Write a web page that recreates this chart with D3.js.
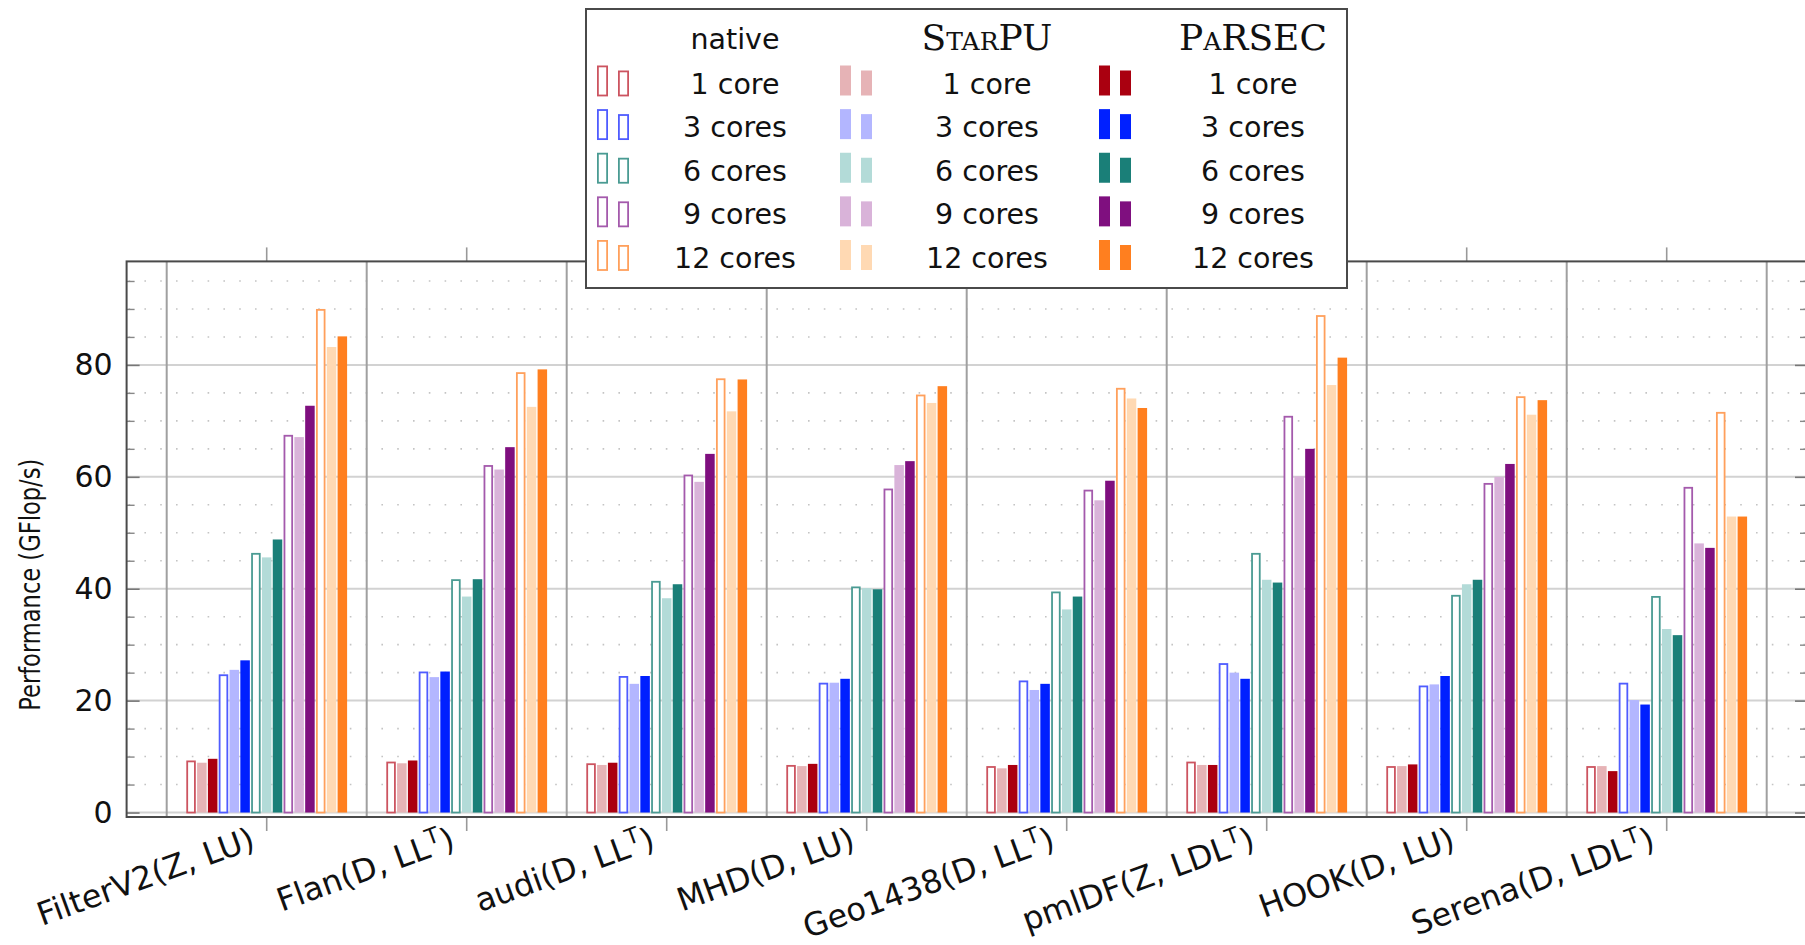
<!DOCTYPE html>
<html>
<head>
<meta charset="utf-8">
<script src="https://cdn.jsdelivr.net/npm/d3@7"></script>
<style>
  html, body { margin: 0; padding: 0; background: #fff; }
  svg { display: block; }
</style>
</head>
<body>
<svg id="chart" width="1805" height="945"></svg>
<script>
// Benchmarks along the x axis ('^T' becomes a superscript T)
const categories = [
  'FilterV2(Z, LU)', 'Flan(D, LL^T)', 'audi(D, LL^T)', 'MHD(D, LU)',
  'Geo1438(D, LL^T)', 'pmlDF(Z, LDL^T)', 'HOOK(D, LU)', 'Serena(D, LDL^T)'
];
const coreLabels = ['1 core', '3 cores', '6 cores', '9 cores', '12 cores'];
const yTicks = [0, 20, 40, 60, 80];

// GFlop/s, one row per benchmark, one column per core count (1, 3, 6, 9, 12)
const nativeValues = [
  [9.3, 24.7, 46.4, 67.5, 90.0],
  [9.1, 25.2, 41.7, 62.1, 78.7],
  [8.8, 24.4, 41.4, 60.4, 77.6],
  [8.5, 23.2, 40.4, 57.9, 74.7],
  [8.3, 23.6, 39.5, 57.7, 75.9],
  [9.1, 26.7, 46.4, 70.9, 88.9],
  [8.3, 22.7, 38.9, 58.9, 74.4],
  [8.3, 23.2, 38.7, 58.2, 71.6]
];
const starpuValues = [
  [8.9, 25.5, 45.6, 67.1, 83.2],
  [8.8, 24.2, 38.6, 61.3, 72.5],
  [8.5, 23.0, 38.3, 59.1, 71.7],
  [8.3, 23.2, 40.1, 62.1, 73.2],
  [7.9, 21.9, 36.3, 55.8, 74.0],
  [8.5, 25.0, 41.6, 60.1, 76.4],
  [8.3, 22.9, 40.8, 60.0, 71.1],
  [8.3, 20.1, 32.8, 48.1, 52.9]
];
const parsecValues = [
  [9.6, 27.2, 48.8, 72.7, 85.1],
  [9.3, 25.2, 41.7, 65.3, 79.2],
  [8.9, 24.4, 40.8, 64.1, 77.4],
  [8.7, 23.9, 39.9, 62.8, 76.2],
  [8.5, 23.0, 38.6, 59.3, 72.3],
  [8.5, 23.9, 41.1, 65.0, 81.3],
  [8.6, 24.4, 41.6, 62.3, 73.7],
  [7.4, 19.3, 31.7, 47.3, 52.9]
];

// colours per core count
const outlineColors = ['#cc5460', '#4f5cff', '#4a9b93', '#a45aac', '#ffa05c'];
const lightColors = ['#e6b3b6', '#b3b6ff', '#b3dbd8', '#d9b3d9', '#ffd9b3'];
const darkColors = ['#aa0010', '#0020ff', '#1a7f78', '#7f0f7f', '#ff7f1f'];

const implementations = [
  { name: 'native', values: nativeValues, fill: () => '#fff', stroke: c => outlineColors[c] },
  { name: 'StarPU', values: starpuValues, fill: c => lightColors[c], stroke: () => 'none' },
  { name: 'PaRSEC', values: parsecValues, fill: c => darkColors[c], stroke: () => 'none' }
];

const frame = { left: 126.6, right: 1808, top: 261.4, bottom: 817 };
const font = '"DejaVu Sans", Verdana, sans-serif';
const serif = '"DejaVu Serif", "Liberation Serif", serif';

const svg = d3.select('#chart').style('font-family', font);

const y = d3.scaleLinear().domain([-0.8, 98.5]).range([frame.bottom, frame.top]);
const x0 = d3.scaleBand().domain(categories).range([166.7, 1766.7]);
const x1 = d3.scaleBand().domain(d3.range(15)).range([19.6, 180.4]).paddingInner(0.12);

const plot = svg.append('g');

// minor dotted grid every 5
const minorTicks = d3.range(5, 98, 5).filter(v => v % 20 !== 0);
plot.append('g')
  .selectAll('line')
  .data(minorTicks)
  .join('line')
  .attr('x1', frame.left + 2).attr('x2', frame.right)
  .attr('y1', d => y(d)).attr('y2', d => y(d))
  .attr('stroke', '#c4c4c4')
  .attr('stroke-width', 1.6)
  .attr('stroke-dasharray', '1.6 14.2');

// major grid
plot.append('g')
  .selectAll('line')
  .data(yTicks)
  .join('line')
  .attr('x1', frame.left).attr('x2', frame.right)
  .attr('y1', d => y(d)).attr('y2', d => y(d))
  .attr('stroke', '#d2d2d2')
  .attr('stroke-width', 2);

// group separators
plot.append('g')
  .selectAll('line')
  .data(categories.concat(['end']))
  .join('line')
  .attr('x1', (d, i) => 166.7 + i * x0.bandwidth())
  .attr('x2', (d, i) => 166.7 + i * x0.bandwidth())
  .attr('y1', frame.top).attr('y2', frame.bottom)
  .attr('stroke', '#a0a0a0')
  .attr('stroke-width', 2);

// bars
const groups = plot.append('g')
  .selectAll('g')
  .data(categories)
  .join('g')
  .attr('transform', d => `translate(${x0(d)},0)`);

groups.each(function(cat, gi) {
  const bars = [];
  coreLabels.forEach((c, ci) => {
    implementations.forEach((impl, k) => {
      bars.push({ idx: ci * 3 + k, ci: ci, impl: impl, v: impl.values[gi][ci] });
    });
  });
  d3.select(this)
    .selectAll('rect')
    .data(bars)
    .join('rect')
    .attr('x', d => x1(d.idx) + (d.impl.name === 'native' ? 0.9 : 0))
    .attr('width', d => x1.bandwidth() - (d.impl.name === 'native' ? 1.8 : 0))
    .attr('y', d => y(d.v) + (d.impl.name === 'native' ? 0.9 : 0))
    .attr('height', d => y(0) - y(d.v) - (d.impl.name === 'native' ? 0.9 : 0))
    .attr('fill', d => d.impl.fill(d.ci))
    .attr('stroke', d => d.impl.stroke(d.ci))
    .attr('stroke-width', 1.8);
});

// y axis ticks (inside) and labels
const yAxis = svg.append('g')
  .attr('transform', `translate(${frame.left},0)`)
  .call(d3.axisLeft(y).tickValues(yTicks).tickSize(-13).tickPadding(14));
yAxis.select('.domain').remove();
yAxis.selectAll('line').attr('stroke', '#777').attr('stroke-width', 1.6);
yAxis.selectAll('text')
  .attr('font-size', 30)
  .attr('font-family', font)
  .attr('fill', '#111');

const yMinor = svg.append('g')
  .attr('transform', `translate(${frame.left},0)`)
  .call(d3.axisLeft(y).tickValues(minorTicks).tickSize(-8).tickFormat(''));
yMinor.select('.domain').remove();
yMinor.selectAll('line').attr('stroke', '#888').attr('stroke-width', 1.4);

const yRight = svg.append('g')
  .attr('transform', `translate(${frame.right},0)`)
  .call(d3.axisRight(y).tickValues(yTicks).tickSize(-13).tickFormat(''));
yRight.select('.domain').remove();
yRight.selectAll('line').attr('stroke', '#777').attr('stroke-width', 1.6);
const yRightMinor = svg.append('g')
  .attr('transform', `translate(${frame.right},0)`)
  .call(d3.axisRight(y).tickValues(minorTicks).tickSize(-8).tickFormat(''));
yRightMinor.select('.domain').remove();
yRightMinor.selectAll('line').attr('stroke', '#888').attr('stroke-width', 1.4);

// x ticks outside, top and bottom
const xBottom = svg.append('g')
  .attr('transform', `translate(0,${frame.bottom})`)
  .call(d3.axisBottom(x0).tickSize(14).tickFormat(''));
xBottom.select('.domain').remove();
xBottom.selectAll('line').attr('stroke', '#999').attr('stroke-width', 1.6);

const xTop = svg.append('g')
  .attr('transform', `translate(0,${frame.top})`)
  .call(d3.axisTop(x0).tickSize(14).tickFormat(''));
xTop.select('.domain').remove();
xTop.selectAll('line').attr('stroke', '#999').attr('stroke-width', 1.6);

// frame
svg.append('rect')
  .attr('x', frame.left).attr('y', frame.top)
  .attr('width', frame.right - frame.left)
  .attr('height', frame.bottom - frame.top)
  .attr('fill', 'none')
  .attr('stroke', '#4a4a4a')
  .attr('stroke-width', 2);

// rotated x labels, the T exponent raised with dy
function addLabel(sel, label) {
  const parts = label.split('^T');
  sel.append('tspan').text(parts[0]);
  if (parts.length > 1) {
    sel.append('tspan').attr('dy', -12).attr('font-size', 22).text('T');
    sel.append('tspan').attr('dy', 12).text(parts[1]);
  }
}

svg.append('g')
  .selectAll('text')
  .data(categories)
  .join('text')
  .attr('transform', d => `translate(${x0(d) + x0.bandwidth() / 2 - 10},${frame.bottom + 31}) rotate(-20)`)
  .attr('text-anchor', 'end')
  .attr('font-size', 32)
  .attr('fill', '#111')
  .each(function(d) { addLabel(d3.select(this), d); });

// y axis title
svg.append('text')
  .attr('transform', `translate(32,${y(40.7)}) rotate(-90)`)
  .attr('text-anchor', 'middle')
  .attr('dominant-baseline', 'middle')
  .attr('font-size', 28)
  .attr('textLength', 252)
  .attr('lengthAdjust', 'spacingAndGlyphs')
  .attr('fill', '#111')
  .text('Performance (GFlop/s)');

// legend
const legend = svg.append('g');
legend.append('rect')
  .attr('x', 586).attr('y', 9)
  .attr('width', 761).attr('height', 279)
  .attr('fill', '#fff')
  .attr('stroke', '#4a4a4a')
  .attr('stroke-width', 2);

const legendCols = [
  { marker: 597, text: 735 },
  { marker: 840, text: 987 },
  { marker: 1099, text: 1253 }
];
const headerY = 41;
const rowY = d3.scaleLinear().domain([0, 4]).range([85.5, 260]);

implementations.forEach((impl, k) => {
  const col = legendCols[k];
  const header = legend.append('text')
    .attr('x', col.text).attr('y', headerY)
    .attr('text-anchor', 'middle')
    .attr('dominant-baseline', 'middle')
    .attr('font-size', 28.5)
    .attr('fill', '#111')
    .text(impl.name);
  if (k > 0) {
    header.attr('font-family', serif)
      .attr('font-size', 36)
      .style('font-variant', 'small-caps');
  }

  coreLabels.forEach((label, ci) => {
    const base = rowY(ci) + 10;
    const inset = impl.name === 'native' ? 0.9 : 0;
    legend.append('rect')
      .attr('x', col.marker + inset).attr('y', base - 30 + inset)
      .attr('width', 11 - 2 * inset).attr('height', 30 - inset)
      .attr('fill', impl.fill(ci))
      .attr('stroke', impl.stroke(ci))
      .attr('stroke-width', 1.8);
    legend.append('rect')
      .attr('x', col.marker + 21 + inset).attr('y', base - 25 + inset)
      .attr('width', 11 - 2 * inset).attr('height', 25 - inset)
      .attr('fill', impl.fill(ci))
      .attr('stroke', impl.stroke(ci))
      .attr('stroke-width', 1.8);
    legend.append('text')
      .attr('x', col.text).attr('y', rowY(ci))
      .attr('text-anchor', 'middle')
      .attr('dominant-baseline', 'middle')
      .attr('font-size', 28.5)
      .attr('fill', '#111')
      .text(label);
  });
});
</script>
</body>
</html>
